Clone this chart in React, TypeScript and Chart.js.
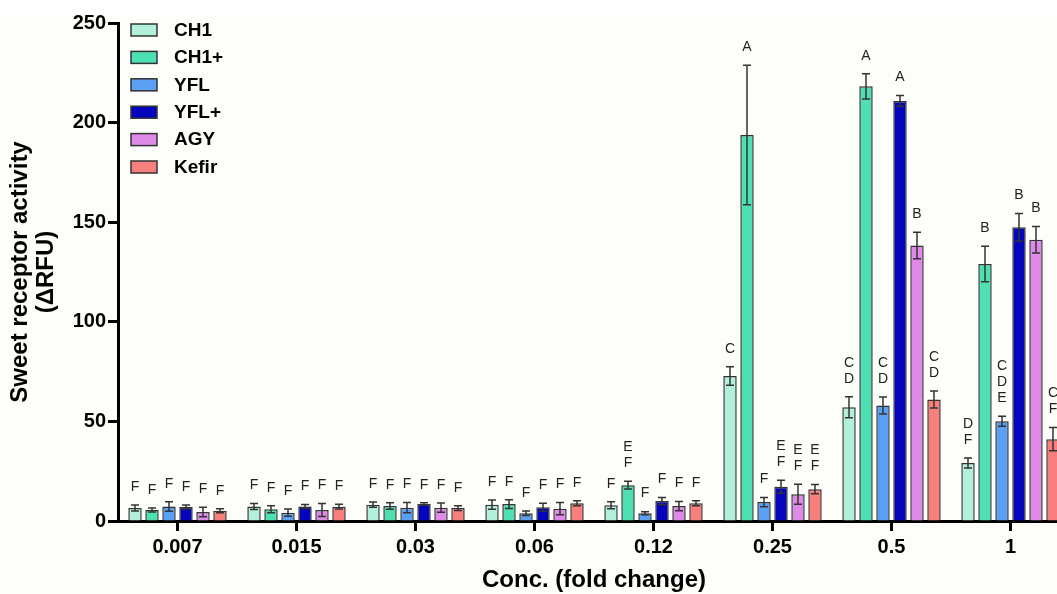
import React, { useEffect, useRef } from 'react';
import { Chart, registerables } from 'chart.js';

Chart.register(...registerables);

const categories = ['0.007', '0.015', '0.03', '0.06', '0.12', '0.25', '0.5', '1'];

const seriesNames = ['CH1', 'CH1+', 'YFL', 'YFL+', 'AGY', 'Kefir'];
const seriesColors = ['#b3f0dc', '#4de0b2', '#5aa0f5', '#0505bd', '#df8ae9', '#f97f7d'];

const ch1Values = [6.5, 7.3, 8.2, 8.2, 7.9, 72.8, 57.1, 29.1];
const ch1Errors = [1.5, 1.5, 1.3, 2.3, 1.8, 4.6, 5.3, 2.5];
const ch1Letters = ['F', 'F', 'F', 'F', 'F', 'C', 'CD', 'DF'];

const ch1pValues = [5.5, 5.9, 7.5, 8.5, 18.0, 193.8, 218.2, 129.0];
const ch1pErrors = [1.0, 1.8, 1.6, 2.2, 1.9, 35.0, 6.3, 8.9];
const ch1pLetters = ['F', 'F', 'F', 'F', 'EF', 'A', 'A', 'B'];

const yflValues = [7.3, 4.2, 6.7, 3.9, 3.9, 9.5, 58.0, 50.1];
const yflErrors = [2.4, 1.8, 2.6, 1.1, 0.8, 2.3, 4.3, 2.5];
const yflLetters = ['F', 'F', 'F', 'F', 'F', 'F', 'CD', 'CDE'];

const yflpValues = [7.0, 7.3, 8.5, 6.9, 10.0, 17.2, 210.9, 147.5];
const yflpErrors = [1.0, 1.0, 0.6, 2.0, 1.8, 3.3, 2.7, 6.9];
const yflpLetters = ['F', 'F', 'F', 'F', 'F', 'EF', 'A', 'B'];

const agyValues = [4.5, 5.5, 6.7, 6.2, 7.5, 13.4, 138.3, 141.2];
const agyErrors = [2.4, 3.3, 2.3, 3.1, 2.3, 5.0, 6.7, 6.6];
const agyLetters = ['F', 'F', 'F', 'F', 'F', 'EF', 'B', 'B'];

const kefirValues = [5.2, 7.2, 6.5, 8.9, 8.9, 16.0, 61.0, 41.1];
const kefirErrors = [1.0, 1.2, 1.2, 1.3, 1.3, 2.3, 4.3, 5.8];
const kefirLetters = ['F', 'F', 'F', 'F', 'F', 'EF', 'CD', 'CF'];

const yTicks = [0, 50, 100, 150, 200, 250];

const FONT = "'Liberation Sans', Arial, Helvetica, sans-serif";

const errorPlugin = {
  id: 'errorBarsAndLetters',
  afterDatasetsDraw(chart: any) {
    const ctx = chart.ctx;
    const yScale = chart.scales.y;
    chart.data.datasets.forEach((ds: any, i: number) => {
      const meta = chart.getDatasetMeta(i);
      meta.data.forEach((bar: any, j: number) => {
        const v = ds.data[j];
        const e = ds.errors[j];
        const x = bar.x;
        const yT = yScale.getPixelForValue(v + e);
        const yB = yScale.getPixelForValue(Math.max(0, v - e));
        ctx.save();
        ctx.strokeStyle = '#333';
        ctx.lineWidth = 1.5;
        ctx.beginPath();
        ctx.moveTo(x, yT);
        ctx.lineTo(x, yB);
        ctx.moveTo(x - 4, yT);
        ctx.lineTo(x + 4, yT);
        ctx.moveTo(x - 4, yB);
        ctx.lineTo(x + 4, yB);
        ctx.stroke();
        const lines = String(ds.letters[j]).split('');
        ctx.fillStyle = '#222';
        ctx.font = `14px ${FONT}`;
        ctx.textAlign = 'center';
        ctx.textBaseline = 'middle';
        lines.forEach((ch: string, k: number) => {
          ctx.fillText(ch, x, yT - 18 - (lines.length - 1 - k) * 16);
        });
        ctx.restore();
      });
    });
  },
};

const legendPlugin = {
  id: 'insideLegend',
  afterDraw(chart: any) {
    const ctx = chart.ctx;
    const area = chart.chartArea;
    const left = area.left + 13;
    const top = 24;
    ctx.save();
    chart.data.datasets.forEach((ds: any, i: number) => {
      const y = top + i * 27.4;
      ctx.fillStyle = ds.backgroundColor;
      ctx.fillRect(left, y, 26, 12);
      ctx.strokeStyle = '#333';
      ctx.lineWidth = 1.5;
      ctx.strokeRect(left, y, 26, 12);
      ctx.fillStyle = '#000';
      ctx.font = `bold 19px ${FONT}`;
      ctx.textAlign = 'left';
      ctx.textBaseline = 'middle';
      ctx.fillText(ds.label, left + 43, y + 6.5);
    });
    ctx.restore();
  },
};

export default function App() {
  const ref = useRef<HTMLCanvasElement>(null);

  useEffect(() => {
    const values = [ch1Values, ch1pValues, yflValues, yflpValues, agyValues, kefirValues];
    const errors = [ch1Errors, ch1pErrors, yflErrors, yflpErrors, agyErrors, kefirErrors];
    const letters = [ch1Letters, ch1pLetters, yflLetters, yflpLetters, agyLetters, kefirLetters];

    const datasets: any[] = seriesNames.map((name, i) => ({
      label: name,
      data: values[i],
      errors: errors[i],
      letters: letters[i],
      backgroundColor: seriesColors[i],
      borderColor: '#333',
      borderWidth: 1.5,
      categoryPercentage: 0.857,
      barPercentage: 0.79,
    }));

    const chart = new Chart(ref.current as HTMLCanvasElement, {
      type: 'bar',
      data: { labels: categories, datasets },
      options: {
        responsive: false,
        animation: false,
        layout: { padding: { left: 0, right: 20, top: 23, bottom: 0 } },
        plugins: {
          legend: { display: false },
          tooltip: { enabled: false },
        },
        scales: {
          x: {
            grid: {
              offset: false,
              drawOnChartArea: false,
              drawTicks: true,
              tickLength: 10,
              tickColor: '#000',
              tickWidth: 3,
            },
            border: { display: true, color: '#000', width: 3 },
            ticks: {
              color: '#000',
              font: { family: FONT, size: 20, weight: 'bold' },
              padding: 4,
              maxRotation: 0,
              autoSkip: false,
            },
            title: {
              display: true,
              text: 'Conc. (fold change)',
              color: '#000',
              font: { family: FONT, size: 24, weight: 'bold', lineHeight: 1.1 },
              padding: { top: 0, bottom: 0 },
            },
            afterFit: (s: any) => {
              s.height = 73;
            },
          },
          y: {
            min: 0,
            max: 250,
            afterBuildTicks: (s: any) => {
              s.ticks = yTicks.map((v) => ({ value: v }));
            },
            grid: {
              drawOnChartArea: false,
              drawTicks: true,
              tickLength: 10,
              tickColor: '#000',
              tickWidth: 3,
            },
            border: { display: true, color: '#000', width: 3 },
            ticks: {
              color: '#000',
              font: { family: FONT, size: 20, weight: 'bold' },
              padding: 2,
            },
            title: {
              display: true,
              text: ['Sweet receptor activity', '(ΔRFU)'],
              color: '#000',
              font: { family: FONT, size: 24, weight: 'bold', lineHeight: 1.1 },
              padding: { top: 7, bottom: 0 },
            },
            afterFit: (s: any) => {
              s.width = 118;
            },
          },
        },
      } as any,
      plugins: [errorPlugin, legendPlugin],
    });
    return () => chart.destroy();
  }, []);

  return (
    <div
      style={{
        position: 'fixed',
        left: 0,
        top: 0,
        width: 1057,
        height: 594,
        overflow: 'hidden',
        background: '#ffffff',
      }}
    >
      <div
        style={{
          position: 'absolute',
          left: 0,
          top: 15,
          width: 1057,
          height: 579,
          background: '#fdfdf9',
        }}
      />
      <canvas
        ref={ref}
        width={1090}
        height={594}
        style={{ position: 'absolute', left: 0, top: 0, width: 1090, height: 594 }}
      />
    </div>
  );
}
